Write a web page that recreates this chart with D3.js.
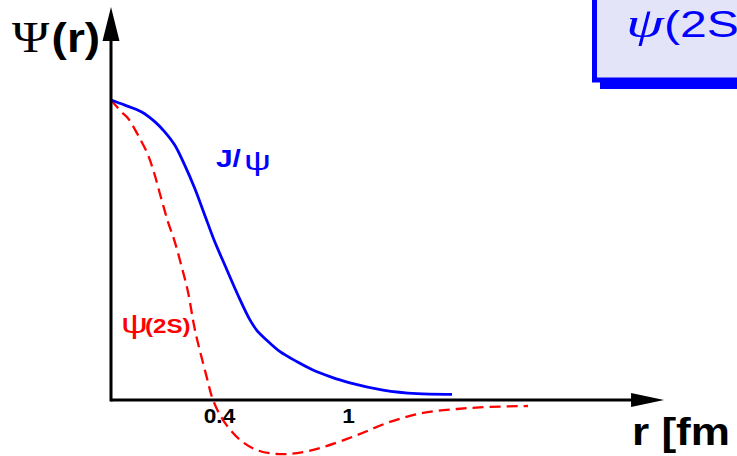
<!DOCTYPE html>
<html><head><meta charset="utf-8">
<script src="https://cdn.jsdelivr.net/npm/d3@7"></script>
<style>html,body{margin:0;padding:0;background:#fff;overflow:hidden}</style>
</head><body>
<svg id="c" width="737" height="456"></svg>
<script>
// ---- data ----
const rJpsi = [0, 0.051, 0.112, 0.162, 0.199, 0.236, 0.273, 0.310, 0.347, 0.384, 0.427, 0.488, 0.544, 0.575, 0.621, 0.684, 0.762, 0.837, 0.916, 1.009, 1.163, 1.321, 1.484];
const vJpsi = [1.0, 0.983, 0.961, 0.928, 0.894, 0.85, 0.783, 0.706, 0.617, 0.528, 0.45, 0.35, 0.267, 0.233, 0.20, 0.161, 0.128, 0.10, 0.078, 0.057, 0.033, 0.021, 0.019];
const r2S = [0, 0.038, 0.063, 0.10, 0.137, 0.162, 0.186, 0.211, 0.236, 0.260, 0.285, 0.311, 0.354, 0.378, 0.419, 0.498, 0.577, 0.670, 0.763, 0.884, 1.042, 1.195, 1.349, 1.507, 1.660, 1.837];
const v2S = [1.0, 0.961, 0.939, 0.883, 0.817, 0.75, 0.672, 0.594, 0.528, 0.45, 0.361, 0.233, 0.078, 0.0, -0.067, -0.133, -0.167, -0.18, -0.177, -0.157, -0.117, -0.073, -0.043, -0.03, -0.023, -0.02];
const xTickValues = [0.4, 1];
const xTickLabels = ["0.4", "1"];
const xAxisMax = 2.47;
const yAxisMax = 1.31;

// ---- scales ----
const x = d3.scaleLinear().domain([0, 0.4, 1]).range([111, 219, 348]);
const y = d3.scaleLinear().domain([0, 1]).range([400, 100]);

const svg = d3.select("#c");
const SANS = "'Liberation Sans', Arial, sans-serif";
const SERIF = "'Liberation Serif', 'Times New Roman', serif";

// ---- top-right box ----
svg.append("rect").attr("x", 600).attr("y", -10).attr("width", 200).attr("height", 99).attr("fill", "#0000ff");
svg.append("rect").attr("x", 594.5).attr("y", -10).attr("width", 200).attr("height", 90)
  .attr("fill", "#e4e4f8").attr("stroke", "#0000ff").attr("stroke-width", 5);
svg.append("text").attr("transform", "translate(626,37) scale(1.45,1)").attr("fill", "#0000ff")
  .attr("font-family", SERIF).attr("font-style", "italic").attr("font-size", 42).text("ψ");
svg.append("text").attr("transform", "translate(664,37) scale(1.3,1)").attr("fill", "#0000ff")
  .attr("font-family", SANS).attr("font-size", 37).text("(2S");

// ---- curves ----
const line = d3.line().x(d => x(d[0])).y(d => y(d[1])).curve(d3.curveCatmullRom.alpha(0.5));
svg.append("path").datum(r2S.map((r, i) => [r, v2S[i]]))
  .attr("d", line).attr("fill", "none").attr("stroke", "#ff0000").attr("stroke-width", 2.3)
  .attr("stroke-dasharray", "11,6");
svg.append("path").datum(rJpsi.map((r, i) => [r, vJpsi[i]]))
  .attr("d", line).attr("fill", "none").attr("stroke", "#0000ff").attr("stroke-width", 2.8);

// ---- axes with arrows ----
const x0 = x(0), y0 = y(0), xe = x(xAxisMax), ye = y(yAxisMax);
svg.append("line").attr("x1", x0).attr("y1", y0).attr("x2", xe - 30).attr("y2", y0).attr("stroke", "#000").attr("stroke-width", 3);
svg.append("line").attr("x1", x0).attr("y1", y0 + 1.5).attr("x2", x0).attr("y2", ye + 30).attr("stroke", "#000").attr("stroke-width", 3);
svg.append("path").attr("d", `M${xe},${y0} L${xe - 33},${y0 - 7} L${xe - 33},${y0 + 7} Z`).attr("fill", "#000");
svg.append("path").attr("d", `M${x0},${ye} L${x0 - 8.5},${ye + 34} L${x0 + 8.5},${ye + 34} Z`).attr("fill", "#000");

// tick labels via axis generator
const ax = d3.axisBottom(x).tickValues(xTickValues).tickFormat((d, i) => xTickLabels[i]).tickSize(0).tickPadding(0);
const g = svg.append("g").attr("transform", `translate(0,${y0})`).call(ax);
g.select(".domain").remove();
g.selectAll("text").attr("font-family", SANS).attr("font-weight", "bold")
  .attr("font-size", 21).attr("fill", "#000").attr("dy", null).attr("y", 23)
  .attr("transform", "scale(1.08,1)");

// ---- axis titles ----
const yt = svg.append("text").attr("transform", "translate(12,52) scale(1.15,1)").attr("fill", "#000");
yt.append("tspan").attr("font-family", SERIF).attr("font-size", 44).text("Ψ");
yt.append("tspan").attr("font-family", SANS).attr("font-weight", "bold").attr("font-size", 40).attr("dx", 2).text("(r)");

svg.append("text").attr("transform", "translate(632,445) scale(1.16,1)").attr("font-family", SANS)
  .attr("font-weight", "bold").attr("font-size", 38).attr("fill", "#000").text("r [fm");

// ---- curve labels ----
svg.append("text").attr("transform", "translate(216,167) scale(1.3,1)").attr("fill", "#0000ff")
  .attr("font-family", SANS).attr("font-weight", "bold").attr("font-size", 23).text("J/");
svg.append("text").attr("transform", "translate(244,170) scale(1.4,1)").attr("fill", "#0000ff")
  .attr("font-family", SANS).attr("font-size", 27).text("ψ");

svg.append("text").attr("transform", "translate(121,333) scale(1.4,1)").attr("fill", "#ff0000")
  .attr("font-family", SANS).attr("font-size", 27).text("ψ");
svg.append("text").attr("transform", "translate(145,333) scale(1.15,1)").attr("fill", "#ff0000")
  .attr("font-family", SANS).attr("font-weight", "bold").attr("font-size", 21).text("(2S)");
</script>
</body></html>
